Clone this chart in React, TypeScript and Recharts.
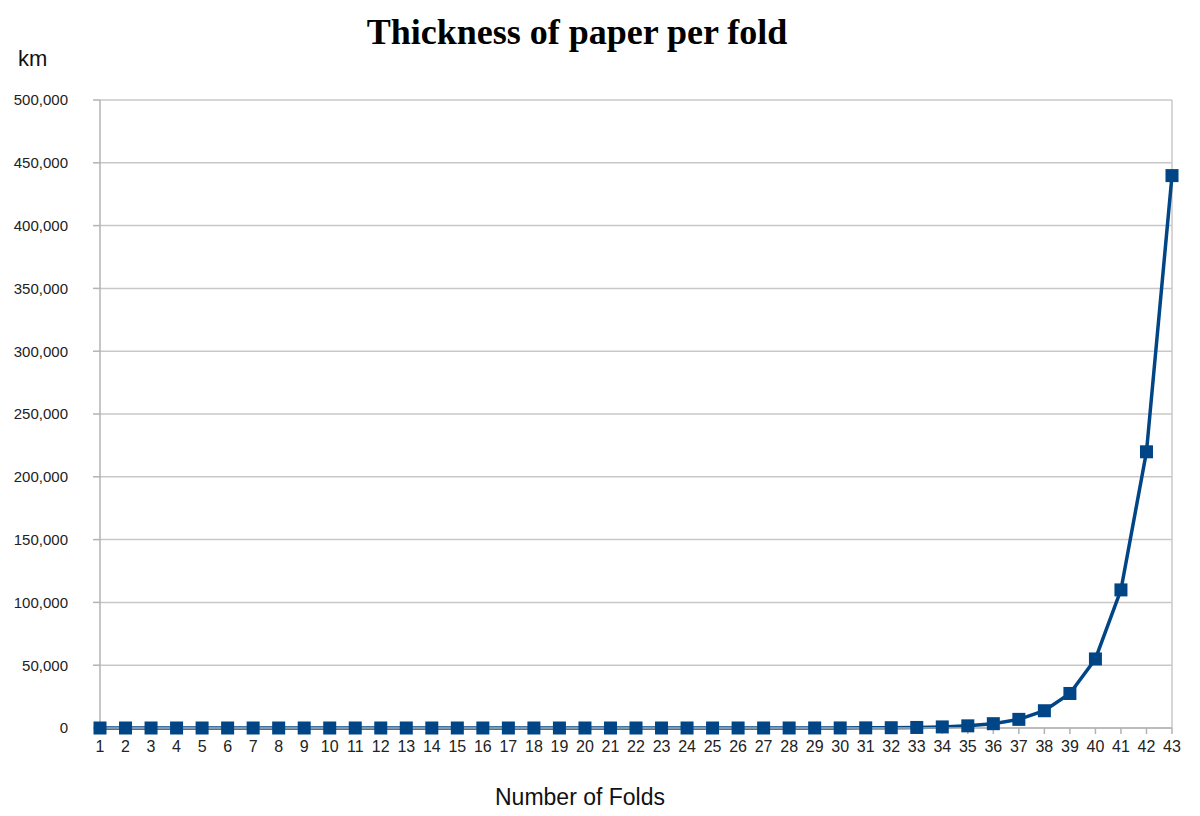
import { LineChart, Line, XAxis, YAxis, CartesianGrid, ReferenceLine } from 'recharts';

// fold number 1..43
const folds = [
  1, 2, 3, 4, 5, 6, 7, 8, 9, 10, 11, 12, 13, 14, 15, 16, 17, 18, 19, 20, 21,
  22, 23, 24, 25, 26, 27, 28, 29, 30, 31, 32, 33, 34, 35, 36, 37, 38, 39, 40,
  41, 42, 43,
];

// thickness in km (0.1 mm sheet doubled each fold)
const thicknessKm = [
  0.0000001, 0.0000002, 0.0000004, 0.0000008, 0.0000016, 0.0000032, 0.0000064,
  0.0000128, 0.0000256, 0.0000512, 0.0001024, 0.0002048, 0.0004096, 0.0008192,
  0.0016384, 0.0032768, 0.0065536, 0.0131072, 0.0262144, 0.0524288, 0.1048576,
  0.2097152, 0.4194304, 0.8388608, 1.6777216, 3.3554432, 6.7108864, 13.4217728,
  26.8435456, 53.6870912, 107.374, 214.748, 429.497, 858.993, 1717.99, 3435.97,
  6871.95, 13743.9, 27487.8, 54975.6, 109951.2, 219902.3, 439804.7,
];

const yTicks = [0, 50000, 100000, 150000, 200000, 250000, 300000, 350000, 400000, 450000, 500000];

const data = folds.map((f, i) => ({ fold: f, km: thicknessKm[i] }));

const BLUE = '#004586';
const GRID = '#c8c8c8';
const SANS = '"Liberation Sans", Arial, sans-serif';

const SquareDot = (props: any) => {
  const { cx, cy } = props;
  if (cx == null || cy == null) return null;
  return <rect x={cx - 6.5} y={cy - 6.5} width={13} height={13} fill={BLUE} />;
};

export default function App() {
  return (
    <div style={{ position: 'absolute', left: 0, top: 0, width: 1200, height: 816, background: '#fff' }}>
      <LineChart
        width={1200}
        height={816}
        data={data}
        margin={{ top: 100, right: 28, bottom: 58, left: 0 }}
      >
        <text
          x={577}
          y={44}
          textAnchor="middle"
          style={{ fontFamily: '"Liberation Serif", "Times New Roman", serif', fontSize: 36, fontWeight: 700 }}
          fill="#000"
        >
          Thickness of paper per fold
        </text>
        <text x={18} y={66} style={{ fontFamily: SANS, fontSize: 22 }} fill="#111">
          km
        </text>
        <text x={580} y={805} textAnchor="middle" style={{ fontFamily: SANS, fontSize: 23 }} fill="#111">
          Number of Folds
        </text>
        <CartesianGrid vertical={false} stroke={GRID} strokeWidth={1.5} />
        <ReferenceLine x={43} stroke={GRID} strokeWidth={1.5} />
        <XAxis
          dataKey="fold"
          height={30}
          interval={0}
          stroke="#b3b3b3"
          strokeWidth={1.5}
          tickSize={6}
          tickMargin={7}
          tick={{ fill: '#222', fontSize: 16, fontFamily: SANS }}
        />
        <YAxis
          width={100}
          domain={[0, 500000]}
          ticks={yTicks}
          interval={0}
          stroke="#b3b3b3"
          strokeWidth={1.5}
          tickSize={7}
          tickMargin={25}
          tickFormatter={(v: number) => v.toLocaleString('en-US')}
          tick={{ fill: '#222', fontSize: 15, fontFamily: SANS }}
        />
        <Line
          type="linear"
          dataKey="km"
          stroke={BLUE}
          strokeWidth={3.5}
          dot={<SquareDot />}
          activeDot={false}
          isAnimationActive={false}
        />
      </LineChart>
    </div>
  );
}
